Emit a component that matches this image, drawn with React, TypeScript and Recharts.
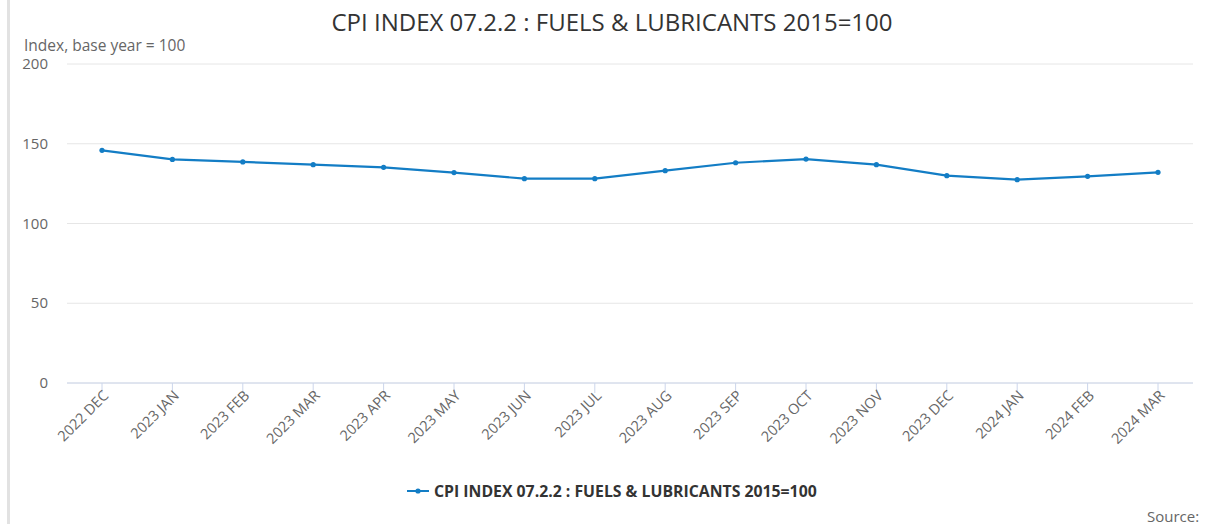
import React from 'react';
import { LineChart, Line, XAxis, YAxis, CartesianGrid } from 'recharts';

const months = [
  '2022 DEC', '2023 JAN', '2023 FEB', '2023 MAR', '2023 APR', '2023 MAY', '2023 JUN', '2023 JUL',
  '2023 AUG', '2023 SEP', '2023 OCT', '2023 NOV', '2023 DEC', '2024 JAN', '2024 FEB', '2024 MAR',
];
const cpiValues = [
  145.9, 140.2, 138.6, 136.9, 135.2, 131.9, 128.1, 128.1,
  133.1, 138.1, 140.4, 136.9, 130.0, 127.5, 129.6, 132.1,
];
const yTicks = [0, 50, 100, 150, 200];

const seriesName = 'CPI INDEX 07.2.2 : FUELS & LUBRICANTS 2015=100';
const LINE_COLOR = '#137dc5';
const FONT = '"Open Sans", "Noto Sans", sans-serif';

const data = months.map((m, i) => ({ month: m, value: cpiValues[i] }));

const YTick = ({ y, payload }: any) => (
  <text x={48} y={y} dy={5} textAnchor="end" fill="#666" fontSize={15} fontFamily={FONT}>
    {payload.value}
  </text>
);

const XTick = ({ x, y, payload }: any) => (
  <g transform={`translate(${x + 4},${y - 2})`}>
    <text x={0} y={0} dy={5} textAnchor="end" transform="rotate(-45)" fill="#666" fontSize={14.5} fontFamily={FONT}>
      {payload.value}
    </text>
  </g>
);

const App: React.FC = () => (
  <div
    style={{
      position: 'fixed',
      left: 0,
      top: 0,
      width: 1205,
      height: 524,
      background: '#fff',
      fontFamily: FONT,
      overflow: 'hidden',
    }}
  >
    <div style={{ position: 'absolute', left: 7, top: 0, width: 3, height: 524, background: '#e2e2e2' }} />
    <div
      style={{
        position: 'absolute',
        left: 0,
        width: 1224,
        top: 7,
        textAlign: 'center',
        fontSize: 24,
        color: '#333',
        lineHeight: '30px',
      }}
    >
      CPI INDEX 07.2.2 : FUELS &amp; LUBRICANTS 2015=100
    </div>
    <div style={{ position: 'absolute', left: 24, top: 35, fontSize: 15.5, color: '#666', lineHeight: '20px' }}>
      Index, base year = 100
    </div>
    <div style={{ position: 'absolute', left: 0, top: 0 }}>
      <LineChart width={1205} height={524} data={data} margin={{ top: 64, right: 12, bottom: 71, left: 0 }}>
        <CartesianGrid horizontal vertical={false} stroke="#e6e6e6" />
        <XAxis
          dataKey="month"
          height={70}
          padding={{ left: 35, right: 35 }}
          axisLine={{ stroke: '#ccd6eb' }}
          tickLine={{ stroke: '#ccd6eb' }}
          tickSize={10}
          tickMargin={2}
          interval={0}
          tick={<XTick />}
        />
        <YAxis
          width={67}
          domain={[0, 200]}
          ticks={yTicks}
          axisLine={false}
          tickLine={false}
          tick={<YTick />}
        />
        <Line
          type="linear"
          dataKey="value"
          name={seriesName}
          stroke={LINE_COLOR}
          strokeWidth={2.2}
          dot={{ r: 2.6, fill: LINE_COLOR, stroke: LINE_COLOR, strokeWidth: 0 }}
          isAnimationActive={false}
        />
      </LineChart>
    </div>
    <div
      style={{
        position: 'absolute',
        left: 407,
        top: 481,
        display: 'flex',
        alignItems: 'center',
        height: 20,
      }}
    >
      <svg width={22} height={10} style={{ marginRight: 5 }}>
        <line x1={0} y1={5} x2={22} y2={5} stroke={LINE_COLOR} strokeWidth={2} />
        <circle cx={11} cy={5} r={2.6} fill={LINE_COLOR} />
      </svg>
      <span style={{ fontSize: 15.8, fontWeight: 700, color: '#333' }}>{seriesName}</span>
    </div>
    <div style={{ position: 'absolute', left: 1147, top: 506, fontSize: 15, color: '#666', lineHeight: '20px' }}>
      Source:
    </div>
  </div>
);

export default App;
